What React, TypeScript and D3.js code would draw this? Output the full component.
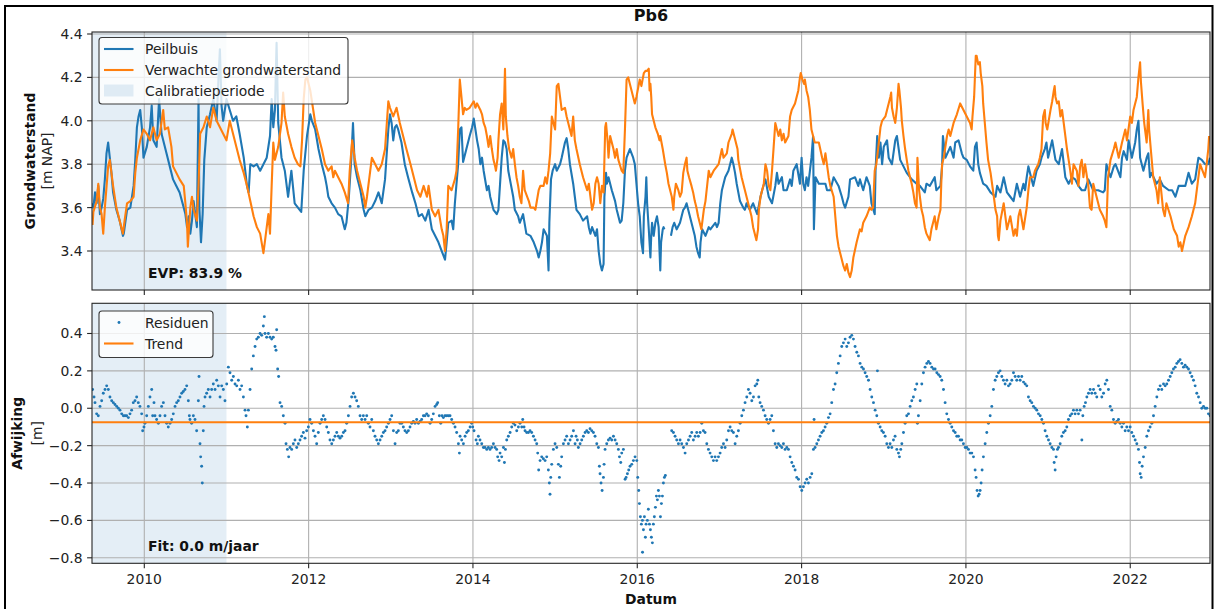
import React from "react";
import * as d3 from "d3";

// ---------- data (decimal year, value) ----------
const obsSeries: [number, number | null][] = [[2009.37,3.62],[2009.38,3.60],[2009.40,3.67],[2009.42,3.62],[2009.44,3.70],[2009.46,3.57],[2009.48,3.60],[2009.50,3.64],[2009.52,3.73],[2009.54,3.85],[2009.56,3.90],[2009.58,3.83],[2009.60,3.76],[2009.62,3.67],[2009.66,3.59],[2009.70,3.54],[2009.74,3.47],[2009.75,3.48],[2009.79,3.59],[2009.83,3.60],[2009.87,3.70],[2009.89,3.82],[2009.91,3.97],[2009.93,4.02],[2009.95,4.05],[2009.97,3.97],[2009.99,3.83],[2010.03,3.88],[2010.07,3.97],[2010.09,4.07],[2010.11,3.91],[2010.15,3.88],[2010.18,4.10],[2010.21,3.94],[2010.23,3.91],[2010.27,3.85],[2010.31,3.79],[2010.35,3.73],[2010.39,3.70],[2010.43,3.67],[2010.48,3.60],[2010.50,3.57],[2010.52,3.51],[2010.54,3.56],[2010.56,3.48],[2010.58,3.54],[2010.60,3.63],[2010.62,3.57],[2010.64,3.51],[2010.66,4.10],[2010.67,3.60],[2010.69,3.44],[2010.71,3.57],[2010.73,3.82],[2010.76,3.97],[2010.80,4.03],[2010.84,4.10],[2010.88,4.00],[2010.90,4.17],[2010.92,4.33],[2010.94,4.07],[2010.96,4.00],[2011.00,4.10],[2011.04,4.05],[2011.08,4.00],[2011.12,4.02],[2011.16,3.94],[2011.21,3.83],[2011.25,3.70],[2011.27,3.67],[2011.29,3.80],[2011.33,3.79],[2011.37,3.80],[2011.41,3.77],[2011.45,3.80],[2011.49,3.83],[2011.53,3.93],[2011.55,4.10],[2011.57,3.97],[2011.59,4.05],[2011.61,4.36],[2011.63,3.99],[2011.67,3.83],[2011.71,3.77],[2011.75,3.65],[2011.79,3.77],[2011.83,3.62],[2011.87,3.60],[2011.91,3.58],[2011.94,3.77],[2011.98,3.93],[2012.02,4.03],[2012.04,4.00],[2012.08,3.96],[2012.12,3.87],[2012.16,3.80],[2012.20,3.74],[2012.22,3.70],[2012.24,3.65],[2012.28,3.62],[2012.32,3.60],[2012.36,3.57],[2012.40,3.56],[2012.42,3.53],[2012.44,3.50],[2012.46,3.53],[2012.49,3.65],[2012.52,3.83],[2012.54,3.99],[2012.56,3.80],[2012.59,3.74],[2012.63,3.68],[2012.67,3.59],[2012.69,3.56],[2012.73,3.59],[2012.77,3.60],[2012.81,3.63],[2012.85,3.67],[2012.89,3.62],[2012.93,3.73],[2012.97,3.96],[2012.99,4.03],[2013.01,3.99],[2013.03,3.91],[2013.05,3.97],[2013.07,3.98],[2013.09,3.96],[2013.13,3.90],[2013.17,3.80],[2013.21,3.74],[2013.26,3.67],[2013.30,3.62],[2013.34,3.56],[2013.38,3.57],[2013.42,3.54],[2013.46,3.59],[2013.50,3.50],[2013.54,3.47],[2013.58,3.44],[2013.62,3.40],[2013.66,3.36],[2013.68,3.44],[2013.70,3.53],[2013.74,3.54],[2013.76,3.50],[2013.78,3.62],[2013.82,3.80],[2013.84,3.96],[2013.86,3.97],[2013.88,3.81],[2013.90,3.84],[2013.92,3.87],[2013.94,3.90],[2013.96,3.93],[2013.99,3.97],[2014.01,4.01],[2014.03,3.96],[2014.05,3.91],[2014.07,3.87],[2014.09,3.80],[2014.11,3.83],[2014.13,3.77],[2014.17,3.68],[2014.19,3.70],[2014.21,3.65],[2014.23,3.62],[2014.25,3.59],[2014.29,3.57],[2014.31,3.59],[2014.33,3.71],[2014.35,3.83],[2014.37,3.91],[2014.39,3.90],[2014.41,3.87],[2014.43,3.77],[2014.45,3.73],[2014.49,3.65],[2014.51,3.59],[2014.55,3.56],[2014.57,3.53],[2014.61,3.57],[2014.65,3.48],[2014.70,3.47],[2014.74,3.44],[2014.78,3.40],[2014.80,3.37],[2014.82,3.40],[2014.84,3.44],[2014.86,3.50],[2014.90,3.47],[2014.92,3.31],[2014.93,3.53],[2014.95,3.73],[2014.97,3.77],[2015.00,3.80],[2015.02,3.77],[2015.06,3.80],[2015.08,3.83],[2015.12,3.90],[2015.14,3.92],[2015.16,3.87],[2015.18,3.80],[2015.22,3.71],[2015.24,3.65],[2015.26,3.59],[2015.30,3.57],[2015.34,3.54],[2015.39,3.56],[2015.41,3.51],[2015.43,3.48],[2015.45,3.51],[2015.49,3.47],[2015.51,3.50],[2015.53,3.40],[2015.55,3.34],[2015.57,3.31],[2015.59,3.34],[2015.60,3.65],[2015.62,3.76],[2015.63,3.71],[2015.65,3.74],[2015.69,3.68],[2015.73,3.63],[2015.75,3.59],[2015.77,3.56],[2015.79,3.53],[2015.81,3.54],[2015.83,3.62],[2015.85,3.77],[2015.87,3.83],[2015.91,3.87],[2015.95,3.83],[2015.97,3.80],[2015.99,3.71],[2016.01,3.62],[2016.03,3.56],[2016.05,3.44],[2016.07,3.39],[2016.08,3.56],[2016.10,3.65],[2016.11,3.74],[2016.12,3.62],[2016.13,3.56],[2016.14,3.50],[2016.16,3.37],[2016.17,3.47],[2016.18,3.53],[2016.20,3.47],[2016.22,3.53],[2016.24,3.56],[2016.26,3.51],[2016.28,3.31],[2016.29,3.44],[2016.31,3.50],[2016.32,3.51],[2016.33,3.50],[2016.37,null],[2016.41,3.47],[2016.43,3.51],[2016.45,3.53],[2016.48,3.50],[2016.52,3.53],[2016.54,3.56],[2016.56,3.59],[2016.58,3.60],[2016.60,3.62],[2016.62,3.59],[2016.66,3.53],[2016.70,3.47],[2016.72,3.42],[2016.74,3.39],[2016.76,3.37],[2016.77,3.44],[2016.79,3.50],[2016.83,3.47],[2016.87,3.51],[2016.89,3.50],[2016.91,3.51],[2016.95,3.53],[2016.97,3.51],[2016.99,3.53],[2017.01,3.62],[2017.03,3.68],[2017.07,3.74],[2017.11,3.77],[2017.13,3.80],[2017.15,3.83],[2017.17,3.80],[2017.19,3.76],[2017.21,3.71],[2017.25,3.63],[2017.29,3.60],[2017.31,3.59],[2017.33,3.62],[2017.37,3.59],[2017.41,3.62],[2017.46,3.57],[2017.50,3.65],[2017.52,3.68],[2017.56,3.73],[2017.60,3.65],[2017.64,3.62],[2017.68,3.70],[2017.70,3.76],[2017.72,3.71],[2017.76,3.74],[2017.78,3.68],[2017.82,3.68],[2017.86,3.73],[2017.88,3.70],[2017.90,3.77],[2017.94,3.80],[2017.98,3.71],[2018.00,3.83],[2018.02,3.71],[2018.04,3.68],[2018.06,3.74],[2018.08,3.70],[2018.12,3.83],[2018.14,3.93],[2018.15,3.50],[2018.17,3.74],[2018.21,3.71],[2018.25,3.71],[2018.29,3.71],[2018.31,3.68],[2018.35,3.68],[2018.39,3.74],[2018.45,3.70],[2018.49,3.65],[2018.51,3.62],[2018.53,3.60],[2018.57,3.65],[2018.59,3.73],[2018.65,3.74],[2018.69,3.70],[2018.71,3.73],[2018.75,3.68],[2018.79,3.74],[2018.83,3.70],[2018.85,3.62],[2018.89,3.57],[2018.90,3.77],[2018.92,3.93],[2018.94,3.83],[2018.96,3.90],[2018.98,3.80],[2019.00,3.88],[2019.04,3.91],[2019.06,3.83],[2019.10,3.80],[2019.14,3.91],[2019.16,3.93],[2019.20,3.82],[2019.24,3.79],[2019.28,3.76],[2019.34,3.73],[2019.40,3.71],[2019.44,3.70],[2019.50,3.67],[2019.52,3.71],[2019.56,3.70],[2019.62,3.74],[2019.64,3.68],[2019.69,3.70],[2019.71,3.79],[2019.72,3.93],[2019.75,3.83],[2019.81,3.88],[2019.85,3.83],[2019.87,3.90],[2019.91,3.91],[2019.95,3.85],[2019.97,3.83],[2020.01,3.82],[2020.05,3.79],[2020.09,3.77],[2020.11,3.88],[2020.13,3.90],[2020.15,3.80],[2020.17,3.76],[2020.21,3.71],[2020.25,3.70],[2020.30,3.67],[2020.36,3.65],[2020.38,3.70],[2020.42,3.67],[2020.46,3.74],[2020.50,3.67],[2020.54,3.65],[2020.58,3.63],[2020.62,3.71],[2020.66,3.65],[2020.70,3.71],[2020.72,3.68],[2020.74,3.74],[2020.76,3.79],[2020.80,3.73],[2020.82,3.70],[2020.86,3.77],[2020.90,3.80],[2020.92,3.83],[2020.96,3.87],[2020.98,3.90],[2021.00,3.83],[2021.05,3.91],[2021.09,3.82],[2021.13,3.80],[2021.17,3.87],[2021.21,3.74],[2021.25,3.71],[2021.29,3.74],[2021.33,3.73],[2021.37,3.70],[2021.41,3.68],[2021.45,3.68],[2021.49,3.73],[2021.55,3.68],[2021.61,3.68],[2021.67,3.67],[2021.69,3.68],[2021.71,3.80],[2021.76,3.74],[2021.80,3.79],[2021.82,3.80],[2021.88,3.74],[2021.90,3.83],[2021.92,3.86],[2021.96,3.82],[2021.98,3.91],[2022.02,3.83],[2022.06,3.90],[2022.08,3.96],[2022.10,4.00],[2022.12,3.83],[2022.16,3.77],[2022.20,3.83],[2022.22,3.85],[2022.24,3.74],[2022.26,3.76],[2022.32,3.71],[2022.36,3.73],[2022.40,3.70],[2022.47,3.68],[2022.51,3.68],[2022.55,3.65],[2022.59,3.70],[2022.63,3.70],[2022.67,3.70],[2022.71,3.76],[2022.75,3.71],[2022.79,3.73],[2022.83,3.83],[2022.87,3.82],[2022.91,3.80],[2022.95,3.80],[2022.97,3.83]];

const simSeries: [number, number][] = [[2009.37,3.52],[2009.38,3.58],[2009.42,3.63],[2009.44,3.71],[2009.46,3.60],[2009.48,3.57],[2009.50,3.48],[2009.52,3.60],[2009.56,3.79],[2009.58,3.82],[2009.62,3.70],[2009.66,3.60],[2009.68,3.57],[2009.70,3.54],[2009.74,3.48],[2009.76,3.54],[2009.79,3.62],[2009.83,3.63],[2009.87,3.65],[2009.89,3.76],[2009.91,3.83],[2009.95,3.91],[2009.99,3.96],[2010.03,3.94],[2010.07,3.91],[2010.11,3.97],[2010.15,3.91],[2010.19,3.94],[2010.23,4.05],[2010.25,3.96],[2010.29,3.97],[2010.33,3.88],[2010.35,3.79],[2010.39,3.76],[2010.43,3.73],[2010.48,3.70],[2010.50,3.62],[2010.52,3.53],[2010.53,3.42],[2010.56,3.60],[2010.58,3.65],[2010.60,3.59],[2010.64,3.54],[2010.66,3.70],[2010.68,3.94],[2010.72,3.97],[2010.76,4.02],[2010.80,3.97],[2010.84,4.06],[2010.88,4.00],[2010.92,3.97],[2010.96,3.94],[2011.00,3.91],[2011.04,4.00],[2011.08,3.94],[2011.12,3.88],[2011.16,3.82],[2011.21,3.76],[2011.25,3.70],[2011.29,3.63],[2011.33,3.56],[2011.37,3.51],[2011.41,3.48],[2011.45,3.39],[2011.47,3.45],[2011.49,3.51],[2011.51,3.57],[2011.53,3.48],[2011.55,3.70],[2011.57,3.90],[2011.59,3.82],[2011.63,3.88],[2011.67,3.99],[2011.69,4.13],[2011.71,4.02],[2011.75,3.94],[2011.79,3.88],[2011.83,3.83],[2011.87,3.80],[2011.90,3.79],[2011.92,3.91],[2011.94,4.10],[2011.96,4.19],[2011.98,4.20],[2012.02,4.14],[2012.04,4.09],[2012.08,3.99],[2012.12,3.93],[2012.16,3.87],[2012.20,3.80],[2012.24,3.77],[2012.28,3.79],[2012.30,3.74],[2012.32,3.77],[2012.36,3.74],[2012.40,3.71],[2012.44,3.67],[2012.48,3.62],[2012.50,3.77],[2012.53,3.91],[2012.56,3.83],[2012.59,3.77],[2012.63,3.71],[2012.67,3.65],[2012.69,3.60],[2012.71,3.65],[2012.75,3.77],[2012.77,3.83],[2012.81,3.80],[2012.85,3.77],[2012.89,3.80],[2012.93,3.87],[2012.97,4.09],[2012.99,4.06],[2013.03,4.02],[2013.07,4.06],[2013.11,3.99],[2013.15,3.93],[2013.19,3.87],[2013.24,3.80],[2013.28,3.74],[2013.32,3.68],[2013.36,3.65],[2013.40,3.70],[2013.44,3.65],[2013.46,3.70],[2013.50,3.59],[2013.54,3.56],[2013.58,3.59],[2013.62,3.50],[2013.64,3.47],[2013.66,3.40],[2013.68,3.50],[2013.70,3.70],[2013.74,3.68],[2013.78,3.73],[2013.80,3.77],[2013.82,3.96],[2013.84,4.19],[2013.86,4.11],[2013.88,4.03],[2013.90,4.06],[2013.92,4.05],[2013.96,4.06],[2014.01,4.09],[2014.03,4.06],[2014.05,4.08],[2014.09,4.05],[2014.11,4.03],[2014.13,3.99],[2014.15,3.97],[2014.17,3.93],[2014.19,3.88],[2014.21,3.93],[2014.23,3.87],[2014.25,3.82],[2014.27,3.79],[2014.28,3.77],[2014.30,3.83],[2014.31,3.91],[2014.33,4.03],[2014.35,4.08],[2014.37,3.96],[2014.39,4.24],[2014.40,4.02],[2014.42,3.93],[2014.44,3.87],[2014.47,3.83],[2014.49,3.87],[2014.51,3.80],[2014.53,3.74],[2014.55,3.70],[2014.57,3.65],[2014.59,3.62],[2014.61,3.77],[2014.63,3.68],[2014.68,3.63],[2014.70,3.60],[2014.74,3.60],[2014.76,3.59],[2014.80,3.68],[2014.82,3.70],[2014.86,3.70],[2014.88,3.74],[2014.90,3.71],[2014.92,3.77],[2014.94,3.85],[2014.96,4.02],[2014.98,3.99],[2015.00,3.96],[2015.02,4.16],[2015.04,4.17],[2015.06,4.11],[2015.08,4.05],[2015.12,4.06],[2015.14,4.02],[2015.16,3.99],[2015.18,3.96],[2015.20,3.93],[2015.22,4.02],[2015.24,3.91],[2015.26,3.87],[2015.30,3.80],[2015.34,3.74],[2015.39,3.68],[2015.41,3.71],[2015.43,3.65],[2015.45,3.59],[2015.47,3.62],[2015.49,3.71],[2015.51,3.74],[2015.53,3.71],[2015.55,3.62],[2015.57,3.70],[2015.59,3.67],[2015.61,3.97],[2015.62,3.99],[2015.64,3.90],[2015.65,3.83],[2015.67,3.93],[2015.71,3.87],[2015.73,3.83],[2015.75,3.87],[2015.77,3.82],[2015.81,3.77],[2015.83,3.76],[2015.85,3.96],[2015.87,4.19],[2015.89,4.20],[2015.93,4.14],[2015.95,4.11],[2015.97,4.08],[2015.99,4.11],[2016.03,4.19],[2016.05,4.16],[2016.08,4.22],[2016.10,4.23],[2016.12,4.23],[2016.14,4.24],[2016.15,4.14],[2016.16,4.17],[2016.17,4.11],[2016.18,4.03],[2016.20,4.00],[2016.22,3.97],[2016.25,3.94],[2016.27,3.91],[2016.28,3.93],[2016.31,3.87],[2016.34,3.80],[2016.36,3.76],[2016.38,3.71],[2016.42,3.65],[2016.44,3.59],[2016.45,3.65],[2016.47,3.71],[2016.50,3.68],[2016.52,3.65],[2016.54,3.67],[2016.56,3.76],[2016.58,3.80],[2016.60,3.83],[2016.61,3.77],[2016.63,3.74],[2016.66,3.70],[2016.68,3.67],[2016.70,3.63],[2016.72,3.60],[2016.74,3.56],[2016.76,3.53],[2016.78,3.50],[2016.81,3.59],[2016.83,3.63],[2016.87,3.77],[2016.89,3.74],[2016.93,3.77],[2016.97,3.79],[2016.99,3.80],[2017.03,3.87],[2017.05,3.83],[2017.09,3.85],[2017.11,3.90],[2017.15,3.94],[2017.16,3.96],[2017.18,3.93],[2017.22,3.87],[2017.23,3.82],[2017.27,3.74],[2017.31,3.68],[2017.35,3.62],[2017.39,3.56],[2017.41,3.51],[2017.43,3.48],[2017.45,3.45],[2017.47,3.50],[2017.48,3.59],[2017.50,3.65],[2017.54,3.71],[2017.56,3.80],[2017.58,3.77],[2017.60,3.70],[2017.62,3.68],[2017.64,3.77],[2017.66,3.88],[2017.68,3.99],[2017.72,3.93],[2017.74,3.96],[2017.76,3.91],[2017.78,3.94],[2017.80,3.90],[2017.84,3.93],[2017.86,4.02],[2017.88,4.05],[2017.92,4.08],[2017.96,4.14],[2017.98,4.20],[2017.99,4.22],[2018.01,4.19],[2018.03,4.17],[2018.04,4.19],[2018.06,4.14],[2018.08,4.11],[2018.10,4.05],[2018.12,3.96],[2018.16,3.90],[2018.21,3.90],[2018.25,3.83],[2018.27,3.80],[2018.29,3.85],[2018.33,3.74],[2018.35,3.70],[2018.39,3.65],[2018.41,3.56],[2018.43,3.47],[2018.45,3.42],[2018.47,3.39],[2018.49,3.36],[2018.51,3.33],[2018.53,3.31],[2018.55,3.34],[2018.57,3.30],[2018.59,3.28],[2018.61,3.31],[2018.63,3.37],[2018.67,3.44],[2018.71,3.50],[2018.73,3.49],[2018.75,3.53],[2018.79,3.56],[2018.83,3.60],[2018.85,3.59],[2018.87,3.60],[2018.89,3.77],[2018.91,3.80],[2018.94,3.90],[2018.96,3.97],[2018.98,4.00],[2019.02,4.02],[2019.04,4.05],[2019.08,4.11],[2019.09,4.13],[2019.10,4.06],[2019.12,4.02],[2019.14,3.99],[2019.16,4.06],[2019.18,4.17],[2019.19,4.14],[2019.21,4.06],[2019.22,4.00],[2019.24,3.93],[2019.26,3.87],[2019.28,3.82],[2019.30,3.77],[2019.34,3.71],[2019.36,3.67],[2019.38,3.62],[2019.40,3.60],[2019.41,3.83],[2019.43,3.68],[2019.46,3.59],[2019.48,3.56],[2019.50,3.51],[2019.52,3.48],[2019.56,3.45],[2019.58,3.50],[2019.60,3.53],[2019.62,3.56],[2019.64,3.50],[2019.67,3.56],[2019.69,3.59],[2019.70,3.71],[2019.71,3.80],[2019.73,3.83],[2019.77,3.93],[2019.79,3.96],[2019.81,3.93],[2019.83,3.96],[2019.85,3.99],[2019.89,4.03],[2019.93,4.08],[2019.97,4.05],[2020.01,4.02],[2020.05,3.99],[2020.07,3.96],[2020.08,4.02],[2020.10,4.11],[2020.12,4.30],[2020.13,4.30],[2020.15,4.26],[2020.17,4.27],[2020.18,4.22],[2020.20,4.16],[2020.21,4.08],[2020.23,3.99],[2020.25,3.90],[2020.27,3.82],[2020.30,3.76],[2020.34,3.65],[2020.36,3.59],[2020.38,3.56],[2020.39,3.47],[2020.40,3.45],[2020.42,3.54],[2020.46,3.62],[2020.48,3.56],[2020.50,3.50],[2020.54,3.56],[2020.58,3.47],[2020.60,3.50],[2020.62,3.47],[2020.64,3.56],[2020.66,3.59],[2020.70,3.50],[2020.74,3.60],[2020.76,3.68],[2020.78,3.74],[2020.82,3.74],[2020.84,3.77],[2020.88,3.80],[2020.90,3.83],[2020.92,3.87],[2020.94,4.02],[2020.96,4.05],[2020.97,3.99],[2020.99,3.96],[2021.03,4.05],[2021.05,4.09],[2021.07,4.14],[2021.08,4.16],[2021.09,4.11],[2021.11,4.08],[2021.13,4.09],[2021.15,4.02],[2021.17,4.05],[2021.19,3.99],[2021.21,3.93],[2021.23,3.87],[2021.27,3.77],[2021.29,3.71],[2021.31,3.80],[2021.35,3.77],[2021.37,3.70],[2021.39,3.79],[2021.41,3.82],[2021.43,3.74],[2021.45,3.80],[2021.49,3.70],[2021.51,3.60],[2021.53,3.59],[2021.55,3.71],[2021.59,3.65],[2021.63,3.59],[2021.67,3.56],[2021.69,3.54],[2021.71,3.51],[2021.73,3.74],[2021.76,3.82],[2021.80,3.87],[2021.82,3.90],[2021.86,3.83],[2021.90,3.90],[2021.92,3.93],[2021.94,3.96],[2021.96,3.91],[2022.00,4.02],[2022.02,3.99],[2022.04,4.05],[2022.08,4.11],[2022.10,4.20],[2022.12,4.27],[2022.13,4.18],[2022.15,4.08],[2022.17,3.99],[2022.20,3.90],[2022.22,4.05],[2022.23,3.96],[2022.25,3.87],[2022.28,3.74],[2022.32,3.68],[2022.34,3.62],[2022.36,3.74],[2022.40,3.59],[2022.42,3.56],[2022.44,3.62],[2022.49,3.56],[2022.53,3.50],[2022.57,3.47],[2022.59,3.42],[2022.61,3.44],[2022.63,3.40],[2022.67,3.47],[2022.71,3.51],[2022.75,3.56],[2022.79,3.62],[2022.81,3.68],[2022.83,3.74],[2022.85,3.80],[2022.89,3.76],[2022.91,3.74],[2022.93,3.80],[2022.95,3.87],[2022.96,3.93]];

const residuals: [number, number][] = [[2009.371,0.10],[2009.388,0.06],[2009.400,0.03],[2009.420,-0.03],[2009.440,-0.04],[2009.461,0.01],[2009.481,0.04],[2009.501,0.08],[2009.522,0.10],[2009.542,0.12],[2009.562,0.10],[2009.582,0.06],[2009.603,0.04],[2009.623,0.03],[2009.643,0.02],[2009.664,0.01],[2009.684,0.00],[2009.704,-0.01],[2009.725,-0.03],[2009.745,-0.04],[2009.765,-0.04],[2009.785,-0.04],[2009.806,-0.05],[2009.826,-0.03],[2009.846,-0.01],[2009.866,0.03],[2009.887,0.04],[2009.907,0.06],[2009.927,0.03],[2009.947,0.01],[2009.968,-0.03],[2009.980,-0.12],[2009.996,-0.10],[2010.008,-0.08],[2010.029,-0.04],[2010.049,0.01],[2010.069,0.06],[2010.090,0.10],[2010.102,-0.04],[2010.118,0.03],[2010.130,-0.04],[2010.150,-0.06],[2010.171,-0.08],[2010.191,-0.04],[2010.211,0.01],[2010.232,0.03],[2010.252,-0.04],[2010.272,-0.08],[2010.292,-0.10],[2010.313,-0.08],[2010.333,-0.06],[2010.353,-0.03],[2010.374,0.01],[2010.394,0.03],[2010.414,0.04],[2010.434,0.06],[2010.455,0.08],[2010.475,0.09],[2010.495,0.10],[2010.516,0.12],[2010.536,0.04],[2010.548,-0.04],[2010.556,-0.06],[2010.576,-0.08],[2010.597,-0.04],[2010.617,-0.06],[2010.637,-0.12],[2010.658,0.04],[2010.666,0.17],[2010.678,-0.19],[2010.686,-0.26],[2010.698,-0.31],[2010.706,-0.40],[2010.718,-0.12],[2010.727,0.01],[2010.739,0.06],[2010.759,0.08],[2010.779,0.10],[2010.800,0.06],[2010.820,0.10],[2010.840,0.13],[2010.861,0.10],[2010.881,0.15],[2010.901,0.12],[2010.922,0.06],[2010.942,0.12],[2010.962,0.10],[2010.982,0.04],[2011.003,0.13],[2011.023,0.22],[2011.043,0.19],[2011.064,0.15],[2011.084,0.17],[2011.104,0.13],[2011.125,0.12],[2011.145,0.15],[2011.165,0.10],[2011.185,0.12],[2011.206,0.06],[2011.226,-0.01],[2011.238,-0.04],[2011.254,-0.10],[2011.267,-0.01],[2011.287,0.10],[2011.307,0.21],[2011.327,0.28],[2011.348,0.33],[2011.368,0.37],[2011.388,0.38],[2011.409,0.40],[2011.429,0.39],[2011.449,0.44],[2011.461,0.49],[2011.469,0.40],[2011.489,0.38],[2011.510,0.40],[2011.530,0.38],[2011.550,0.37],[2011.570,0.38],[2011.591,0.33],[2011.603,0.31],[2011.611,0.42],[2011.623,0.21],[2011.635,0.17],[2011.652,0.03],[2011.672,0.01],[2011.692,-0.04],[2011.713,-0.08],[2011.725,-0.19],[2011.741,-0.22],[2011.757,-0.26],[2011.773,-0.21],[2011.794,-0.22],[2011.814,-0.19],[2011.834,-0.17],[2011.855,-0.21],[2011.875,-0.19],[2011.895,-0.17],[2011.915,-0.15],[2011.936,-0.13],[2011.956,-0.16],[2011.976,-0.12],[2011.997,-0.10],[2012.017,-0.06],[2012.037,-0.08],[2012.058,-0.12],[2012.078,-0.15],[2012.098,-0.19],[2012.118,-0.13],[2012.139,-0.08],[2012.159,-0.06],[2012.179,-0.04],[2012.200,-0.06],[2012.220,-0.10],[2012.240,-0.13],[2012.260,-0.17],[2012.281,-0.19],[2012.301,-0.17],[2012.321,-0.15],[2012.342,-0.13],[2012.362,-0.15],[2012.382,-0.16],[2012.403,-0.15],[2012.423,-0.13],[2012.443,-0.12],[2012.463,-0.08],[2012.484,-0.04],[2012.504,0.01],[2012.524,0.06],[2012.545,0.08],[2012.565,0.06],[2012.585,0.04],[2012.605,0.01],[2012.626,-0.04],[2012.646,-0.06],[2012.666,-0.04],[2012.687,-0.06],[2012.707,-0.04],[2012.727,-0.08],[2012.747,-0.10],[2012.768,-0.06],[2012.788,-0.12],[2012.808,-0.15],[2012.829,-0.17],[2012.849,-0.19],[2012.869,-0.17],[2012.890,-0.15],[2012.910,-0.13],[2012.930,-0.12],[2012.950,-0.10],[2012.971,-0.08],[2012.991,-0.06],[2013.011,-0.04],[2013.032,-0.12],[2013.052,-0.19],[2013.072,-0.13],[2013.092,-0.12],[2013.112,-0.08],[2013.133,-0.08],[2013.153,-0.10],[2013.173,-0.12],[2013.194,-0.13],[2013.214,-0.12],[2013.234,-0.10],[2013.255,-0.08],[2013.275,-0.07],[2013.295,-0.08],[2013.315,-0.06],[2013.336,-0.08],[2013.356,-0.07],[2013.376,-0.06],[2013.397,-0.04],[2013.417,-0.04],[2013.437,-0.03],[2013.457,-0.04],[2013.478,-0.08],[2013.498,-0.06],[2013.518,-0.03],[2013.539,0.01],[2013.559,0.02],[2013.571,0.03],[2013.591,-0.04],[2013.608,-0.08],[2013.624,-0.04],[2013.640,-0.05],[2013.660,-0.04],[2013.681,-0.04],[2013.701,-0.04],[2013.721,-0.04],[2013.741,-0.06],[2013.762,-0.08],[2013.782,-0.10],[2013.802,-0.13],[2013.823,-0.19],[2013.835,-0.24],[2013.843,-0.15],[2013.863,-0.17],[2013.884,-0.19],[2013.904,-0.15],[2013.924,-0.13],[2013.944,-0.12],[2013.965,-0.10],[2013.985,-0.08],[2013.997,-0.10],[2014.013,-0.12],[2014.038,-0.17],[2014.054,-0.19],[2014.066,-0.15],[2014.086,-0.17],[2014.107,-0.19],[2014.127,-0.21],[2014.147,-0.21],[2014.168,-0.22],[2014.188,-0.21],[2014.208,-0.22],[2014.228,-0.21],[2014.249,-0.19],[2014.269,-0.21],[2014.289,-0.22],[2014.301,-0.26],[2014.318,-0.28],[2014.330,-0.24],[2014.350,-0.26],[2014.371,-0.21],[2014.383,-0.29],[2014.395,-0.22],[2014.411,-0.17],[2014.431,-0.15],[2014.452,-0.13],[2014.472,-0.10],[2014.492,-0.08],[2014.512,-0.09],[2014.533,-0.12],[2014.553,-0.10],[2014.573,-0.08],[2014.594,-0.10],[2014.606,-0.06],[2014.622,-0.10],[2014.634,-0.12],[2014.654,-0.13],[2014.675,-0.13],[2014.695,-0.12],[2014.715,-0.13],[2014.736,-0.15],[2014.756,-0.17],[2014.776,-0.19],[2014.788,-0.24],[2014.800,-0.33],[2014.817,-0.28],[2014.837,-0.26],[2014.857,-0.27],[2014.878,-0.28],[2014.898,-0.26],[2014.918,-0.33],[2014.930,-0.40],[2014.938,-0.46],[2014.947,-0.37],[2014.959,-0.30],[2014.979,-0.22],[2014.999,-0.19],[2015.020,-0.21],[2015.040,-0.30],[2015.052,-0.37],[2015.068,-0.31],[2015.080,-0.26],[2015.101,-0.19],[2015.121,-0.17],[2015.141,-0.15],[2015.162,-0.19],[2015.182,-0.17],[2015.202,-0.15],[2015.223,-0.12],[2015.243,-0.19],[2015.255,-0.15],[2015.271,-0.17],[2015.283,-0.21],[2015.304,-0.19],[2015.324,-0.17],[2015.344,-0.15],[2015.365,-0.13],[2015.385,-0.12],[2015.405,-0.13],[2015.425,-0.11],[2015.446,-0.12],[2015.466,-0.13],[2015.486,-0.15],[2015.507,-0.19],[2015.527,-0.21],[2015.539,-0.31],[2015.547,-0.35],[2015.559,-0.40],[2015.572,-0.44],[2015.588,-0.37],[2015.596,-0.30],[2015.608,-0.22],[2015.628,-0.19],[2015.649,-0.17],[2015.669,-0.16],[2015.689,-0.17],[2015.710,-0.15],[2015.730,-0.17],[2015.750,-0.19],[2015.770,-0.22],[2015.783,-0.26],[2015.799,-0.29],[2015.811,-0.24],[2015.831,-0.22],[2015.852,-0.38],[2015.864,-0.37],[2015.880,-0.35],[2015.896,-0.33],[2015.912,-0.31],[2015.933,-0.30],[2015.953,-0.28],[2015.973,-0.26],[2015.994,-0.28],[2016.006,-0.37],[2016.018,-0.44],[2016.026,-0.51],[2016.038,-0.58],[2016.050,-0.62],[2016.063,-0.60],[2016.064,-0.77],[2016.075,-0.65],[2016.087,-0.58],[2016.099,-0.69],[2016.107,-0.62],[2016.123,-0.60],[2016.135,-0.54],[2016.148,-0.62],[2016.160,-0.65],[2016.172,-0.69],[2016.184,-0.72],[2016.196,-0.62],[2016.208,-0.58],[2016.221,-0.53],[2016.233,-0.47],[2016.245,-0.49],[2016.257,-0.44],[2016.269,-0.47],[2016.282,-0.58],[2016.294,-0.51],[2016.306,-0.47],[2016.318,-0.40],[2016.330,-0.37],[2016.342,-0.36],[2016.419,-0.12],[2016.440,-0.13],[2016.460,-0.15],[2016.480,-0.17],[2016.501,-0.19],[2016.521,-0.17],[2016.541,-0.19],[2016.562,-0.21],[2016.582,-0.24],[2016.602,-0.19],[2016.623,-0.17],[2016.643,-0.15],[2016.663,-0.13],[2016.683,-0.17],[2016.704,-0.15],[2016.724,-0.13],[2016.744,-0.15],[2016.765,-0.13],[2016.785,-0.08],[2016.805,-0.12],[2016.825,-0.13],[2016.846,-0.19],[2016.866,-0.22],[2016.886,-0.24],[2016.907,-0.26],[2016.927,-0.28],[2016.947,-0.26],[2016.967,-0.28],[2016.988,-0.26],[2017.008,-0.24],[2017.028,-0.21],[2017.049,-0.19],[2017.069,-0.21],[2017.089,-0.17],[2017.110,-0.12],[2017.130,-0.10],[2017.150,-0.12],[2017.170,-0.13],[2017.191,-0.19],[2017.211,-0.15],[2017.231,-0.12],[2017.252,-0.08],[2017.272,-0.04],[2017.292,-0.01],[2017.312,0.03],[2017.333,0.06],[2017.353,0.10],[2017.373,0.08],[2017.394,0.04],[2017.414,0.06],[2017.434,0.12],[2017.455,0.13],[2017.467,0.15],[2017.479,0.06],[2017.495,0.03],[2017.515,0.01],[2017.536,-0.01],[2017.556,-0.04],[2017.576,-0.06],[2017.597,-0.08],[2017.617,-0.06],[2017.637,-0.04],[2017.657,-0.12],[2017.678,-0.19],[2017.698,-0.21],[2017.718,-0.19],[2017.739,-0.20],[2017.759,-0.21],[2017.779,-0.19],[2017.799,-0.22],[2017.820,-0.21],[2017.840,-0.22],[2017.860,-0.26],[2017.881,-0.29],[2017.901,-0.31],[2017.921,-0.33],[2017.941,-0.37],[2017.962,-0.38],[2017.982,-0.42],[2018.002,-0.44],[2018.022,-0.42],[2018.043,-0.40],[2018.063,-0.38],[2018.083,-0.40],[2018.104,-0.37],[2018.124,-0.35],[2018.144,-0.22],[2018.152,-0.06],[2018.164,-0.21],[2018.185,-0.19],[2018.205,-0.17],[2018.225,-0.15],[2018.246,-0.13],[2018.266,-0.12],[2018.286,-0.10],[2018.306,-0.08],[2018.327,-0.05],[2018.347,-0.03],[2018.367,0.03],[2018.388,0.10],[2018.408,0.13],[2018.428,0.19],[2018.448,0.24],[2018.469,0.28],[2018.489,0.33],[2018.509,0.35],[2018.530,0.37],[2018.550,0.33],[2018.570,0.35],[2018.590,0.38],[2018.611,0.39],[2018.631,0.37],[2018.651,0.33],[2018.672,0.30],[2018.692,0.28],[2018.712,0.24],[2018.733,0.22],[2018.753,0.21],[2018.773,0.19],[2018.793,0.17],[2018.814,0.15],[2018.834,0.10],[2018.854,0.06],[2018.875,0.03],[2018.895,-0.01],[2018.915,-0.04],[2018.923,0.20],[2018.935,-0.08],[2018.956,-0.10],[2018.976,-0.12],[2018.996,-0.13],[2019.017,-0.15],[2019.037,-0.19],[2019.057,-0.21],[2019.077,-0.19],[2019.098,-0.21],[2019.118,-0.17],[2019.138,-0.15],[2019.159,-0.22],[2019.179,-0.24],[2019.191,-0.26],[2019.207,-0.22],[2019.220,-0.19],[2019.240,-0.13],[2019.260,-0.08],[2019.280,-0.04],[2019.301,-0.03],[2019.321,0.01],[2019.341,0.04],[2019.361,0.06],[2019.382,0.10],[2019.402,0.13],[2019.410,-0.08],[2019.422,-0.04],[2019.443,0.04],[2019.463,0.13],[2019.483,0.19],[2019.503,0.22],[2019.524,0.24],[2019.544,0.25],[2019.564,0.24],[2019.585,0.22],[2019.605,0.21],[2019.625,0.21],[2019.646,0.19],[2019.666,0.18],[2019.686,0.17],[2019.706,0.15],[2019.727,0.10],[2019.747,0.03],[2019.767,-0.03],[2019.788,-0.06],[2019.808,-0.08],[2019.828,-0.10],[2019.849,-0.12],[2019.869,-0.13],[2019.889,-0.15],[2019.909,-0.15],[2019.930,-0.17],[2019.950,-0.17],[2019.970,-0.19],[2019.991,-0.21],[2020.011,-0.21],[2020.031,-0.22],[2020.051,-0.24],[2020.072,-0.24],[2020.092,-0.26],[2020.112,-0.33],[2020.124,-0.37],[2020.136,-0.44],[2020.149,-0.47],[2020.161,-0.46],[2020.173,-0.44],[2020.185,-0.40],[2020.197,-0.33],[2020.213,-0.26],[2020.234,-0.19],[2020.254,-0.13],[2020.274,-0.08],[2020.295,-0.04],[2020.315,0.01],[2020.335,0.10],[2020.356,0.15],[2020.376,0.17],[2020.396,0.19],[2020.416,0.20],[2020.437,0.17],[2020.457,0.15],[2020.477,0.13],[2020.498,0.15],[2020.518,0.12],[2020.538,0.13],[2020.559,0.15],[2020.579,0.19],[2020.599,0.17],[2020.619,0.15],[2020.640,0.17],[2020.660,0.15],[2020.680,0.17],[2020.701,0.14],[2020.721,0.13],[2020.741,0.12],[2020.761,0.06],[2020.782,0.04],[2020.802,0.03],[2020.822,0.01],[2020.843,0.00],[2020.863,-0.01],[2020.883,-0.03],[2020.904,-0.04],[2020.924,-0.06],[2020.944,-0.08],[2020.964,-0.12],[2020.985,-0.15],[2021.005,-0.17],[2021.025,-0.19],[2021.046,-0.21],[2021.066,-0.22],[2021.074,-0.29],[2021.086,-0.33],[2021.098,-0.26],[2021.114,-0.22],[2021.127,-0.21],[2021.147,-0.19],[2021.167,-0.15],[2021.187,-0.13],[2021.208,-0.12],[2021.228,-0.10],[2021.248,-0.06],[2021.269,-0.04],[2021.289,-0.03],[2021.309,-0.01],[2021.329,-0.03],[2021.350,-0.01],[2021.370,-0.03],[2021.390,-0.01],[2021.411,-0.17],[2021.423,-0.04],[2021.439,0.01],[2021.455,0.03],[2021.472,0.06],[2021.492,0.08],[2021.512,0.10],[2021.532,0.08],[2021.553,0.10],[2021.573,0.08],[2021.593,0.06],[2021.614,0.12],[2021.634,0.10],[2021.654,0.06],[2021.675,0.08],[2021.695,0.13],[2021.715,0.15],[2021.735,0.10],[2021.756,0.01],[2021.776,-0.01],[2021.796,-0.06],[2021.817,-0.08],[2021.837,-0.07],[2021.857,-0.06],[2021.877,-0.08],[2021.898,-0.10],[2021.918,-0.08],[2021.938,-0.12],[2021.958,-0.10],[2021.979,-0.12],[2021.999,-0.10],[2022.019,-0.13],[2022.040,-0.15],[2022.060,-0.17],[2022.080,-0.19],[2022.100,-0.22],[2022.113,-0.29],[2022.121,-0.35],[2022.133,-0.37],[2022.145,-0.31],[2022.161,-0.26],[2022.182,-0.21],[2022.202,-0.15],[2022.222,-0.12],[2022.242,-0.10],[2022.263,-0.08],[2022.283,-0.04],[2022.303,0.01],[2022.324,0.06],[2022.344,0.10],[2022.364,0.12],[2022.384,0.10],[2022.405,0.13],[2022.425,0.12],[2022.445,0.13],[2022.466,0.15],[2022.486,0.17],[2022.506,0.19],[2022.526,0.21],[2022.547,0.22],[2022.567,0.24],[2022.587,0.25],[2022.607,0.26],[2022.628,0.24],[2022.648,0.22],[2022.668,0.23],[2022.689,0.22],[2022.709,0.21],[2022.729,0.19],[2022.750,0.17],[2022.770,0.15],[2022.790,0.12],[2022.810,0.08],[2022.831,0.06],[2022.851,0.03],[2022.871,0.00],[2022.892,0.01],[2022.912,0.00],[2022.932,0.00],[2022.952,-0.03],[2022.973,-0.04]];

const trendValue = -0.075;
const calibrationPeriod = [2009.3634, 2011.0];
const xDomain = [2009.3634, 2022.9708];
const xTicks = [2010, 2012, 2014, 2016, 2018, 2020, 2022];
const topTicks = [3.4, 3.6, 3.8, 4.0, 4.2, 4.4];
const botTicks = [-0.8, -0.6, -0.4, -0.2, 0.0, 0.2, 0.4];
const title = "Pb6";
const evpText = "EVP: 83.9 %";
const fitText = "Fit: 0.0 m/jaar";

const BLUE = "#1f77b4";
const ORANGE = "#ff7f0e";
const FONT = "DejaVu Sans, sans-serif";
const FS = 13.9;

export default function App() {
  const L = 92, R = 1210;
  const topT = 32, topB = 290;
  const botT = 303.3, botB = 563.3;

  const x = d3.scaleLinear().domain(xDomain).range([L, R]);
  const yTop = d3.scaleLinear().domain([3.2203, 4.4092]).range([topB, topT]);
  const yBot = d3.scaleLinear().domain([-0.8294, 0.5615]).range([botB, botT]);

  const lineTop = d3
    .line<[number, number | null]>()
    .defined((d) => d[1] != null)
    .x((d) => x(d[0]))
    .y((d) => yTop(d[1] as number));

  const fmtBot = (v: number) => (v < 0 ? "\u2212" + Math.abs(v).toFixed(1) : v.toFixed(1));

  const grid = "#b0b0b0";
  const spine = "#262626";

  return (
    <svg
      width={1215}
      height={609}
      style={{ position: "absolute", left: 0, top: 0, background: "#fff" }}
      fontFamily={FONT}
    >
      <defs>
        <clipPath id="clipTop">
          <rect x={L} y={topT} width={R - L} height={topB - topT} />
        </clipPath>
        <clipPath id="clipBot">
          <rect x={L} y={botT} width={R - L} height={botB - botT} />
        </clipPath>
      </defs>
      <rect x={0} y={0} width={1215} height={609} fill="#fff" />

      {/* ---------- top panel ---------- */}
      <rect
        x={x(calibrationPeriod[0])}
        y={topT}
        width={x(calibrationPeriod[1]) - x(calibrationPeriod[0])}
        height={topB - topT}
        fill={BLUE}
        fillOpacity={0.12}
      />
      {xTicks.map((t) => (
        <line key={"gxt" + t} x1={x(t)} x2={x(t)} y1={topT} y2={topB} stroke={grid} strokeWidth={1.1} />
      ))}
      {topTicks.map((t) => (
        <line key={"gyt" + t} x1={L} x2={R} y1={yTop(t)} y2={yTop(t)} stroke={grid} strokeWidth={1.1} />
      ))}
      <g clipPath="url(#clipTop)">
        <path d={lineTop(obsSeries) || ""} fill="none" stroke={BLUE} strokeWidth={2.1} strokeLinejoin="round" />
        <path d={lineTop(simSeries as any) || ""} fill="none" stroke={ORANGE} strokeWidth={2.1} strokeLinejoin="round" />
      </g>
      <rect x={L} y={topT} width={R - L} height={topB - topT} fill="none" stroke={spine} strokeWidth={1.1} />
      {topTicks.map((t) => (
        <g key={"tyt" + t}>
          <line x1={L - 4.9} x2={L} y1={yTop(t)} y2={yTop(t)} stroke={spine} strokeWidth={1.1} />
          <text x={L - 9.5} y={yTop(t)} textAnchor="end" dominantBaseline="central" fontSize={FS} fill="#222">
            {t.toFixed(1)}
          </text>
        </g>
      ))}
      {xTicks.map((t) => (
        <line key={"txt" + t} x1={x(t)} x2={x(t)} y1={topB} y2={topB + 4.9} stroke={spine} strokeWidth={1.1} />
      ))}
      <text x={(L + R) / 2} y={15.5} textAnchor="middle" dominantBaseline="central" fontSize={16} fontWeight="bold" fill="#111">
        {title}
      </text>
      <g transform={`translate(30,${(topT + topB) / 2}) rotate(-90)`}>
        <text textAnchor="middle" dominantBaseline="central" fontSize={FS} fontWeight="bold" fill="#111">
          Grondwaterstand
        </text>
      </g>
      <g transform={`translate(46.5,${(topT + topB) / 2}) rotate(-90)`}>
        <text textAnchor="middle" dominantBaseline="central" fontSize={FS} fill="#222">
          [m NAP]
        </text>
      </g>
      <text x={148} y={272.5} dominantBaseline="central" fontSize={FS} fontWeight="bold" fill="#111">
        {evpText}
      </text>
      {/* legend top */}
      <rect x={99} y={37.5} width={249} height={66.5} rx={3} fill="#fff" fillOpacity={0.8} stroke="#3a3a3a" strokeWidth={1.1} />
      <line x1={104} x2={133.5} y1={49} y2={49} stroke={BLUE} strokeWidth={2.1} />
      <text x={145} y={49} dominantBaseline="central" fontSize={FS} fill="#222">Peilbuis</text>
      <line x1={104} x2={133.5} y1={70} y2={70} stroke={ORANGE} strokeWidth={2.1} />
      <text x={145} y={70} dominantBaseline="central" fontSize={FS} fill="#222">Verwachte grondwaterstand</text>
      <rect x={104} y={84.5} width={29.5} height={12} fill={BLUE} fillOpacity={0.12} />
      <text x={145} y={91} dominantBaseline="central" fontSize={FS} fill="#222">Calibratieperiode</text>

      {/* ---------- bottom panel ---------- */}
      <rect
        x={x(calibrationPeriod[0])}
        y={botT}
        width={x(calibrationPeriod[1]) - x(calibrationPeriod[0])}
        height={botB - botT}
        fill={BLUE}
        fillOpacity={0.12}
      />
      {xTicks.map((t) => (
        <line key={"gxb" + t} x1={x(t)} x2={x(t)} y1={botT} y2={botB} stroke={grid} strokeWidth={1.1} />
      ))}
      {botTicks.map((t) => (
        <line key={"gyb" + t} x1={L} x2={R} y1={yBot(t)} y2={yBot(t)} stroke={grid} strokeWidth={1.1} />
      ))}
      <g clipPath="url(#clipBot)">
        {residuals.map((d, i) => (
          <circle key={"r" + i} cx={x(d[0])} cy={yBot(d[1])} r={1.45} fill={BLUE} />
        ))}
        <line x1={x(xDomain[0])} x2={x(xDomain[1])} y1={yBot(trendValue)} y2={yBot(trendValue)} stroke={ORANGE} strokeWidth={2.1} />
      </g>
      <rect x={L} y={botT} width={R - L} height={botB - botT} fill="none" stroke={spine} strokeWidth={1.1} />
      {botTicks.map((t) => (
        <g key={"tyb" + t}>
          <line x1={L - 4.9} x2={L} y1={yBot(t)} y2={yBot(t)} stroke={spine} strokeWidth={1.1} />
          <text x={L - 9.5} y={yBot(t)} textAnchor="end" dominantBaseline="central" fontSize={FS} fill="#222">
            {fmtBot(t)}
          </text>
        </g>
      ))}
      {xTicks.map((t) => (
        <g key={"txb" + t}>
          <line x1={x(t)} x2={x(t)} y1={botB} y2={botB + 4.9} stroke={spine} strokeWidth={1.1} />
          <text x={x(t)} y={579} textAnchor="middle" dominantBaseline="central" fontSize={FS} fill="#222">
            {t}
          </text>
        </g>
      ))}
      <text x={(L + R) / 2} y={599} textAnchor="middle" dominantBaseline="central" fontSize={FS} fontWeight="bold" fill="#111">
        Datum
      </text>
      <g transform={`translate(17,${(botT + botB) / 2}) rotate(-90)`}>
        <text textAnchor="middle" dominantBaseline="central" fontSize={FS} fontWeight="bold" fill="#111">
          Afwijking
        </text>
      </g>
      <g transform={`translate(37,${(botT + botB) / 2}) rotate(-90)`}>
        <text textAnchor="middle" dominantBaseline="central" fontSize={FS} fill="#222">
          [m]
        </text>
      </g>
      <text x={148} y={546} dominantBaseline="central" fontSize={FS} fontWeight="bold" fill="#111">
        {fitText}
      </text>
      {/* legend bottom */}
      <rect x={99} y={311} width={114} height={46.5} rx={3} fill="#fff" fillOpacity={0.8} stroke="#3a3a3a" strokeWidth={1.1} />
      <circle cx={119} cy={322.5} r={1.45} fill={BLUE} />
      <text x={145} y={322.5} dominantBaseline="central" fontSize={FS} fill="#222">Residuen</text>
      <line x1={104} x2={133.5} y1={343.5} y2={343.5} stroke={ORANGE} strokeWidth={2.1} />
      <text x={145} y={343.5} dominantBaseline="central" fontSize={FS} fill="#222">Trend</text>

      {/* outer frame */}
      <rect x={5} y={6} width={1207.5} height={640} fill="none" stroke="#000" strokeWidth={2} />
    </svg>
  );
}
